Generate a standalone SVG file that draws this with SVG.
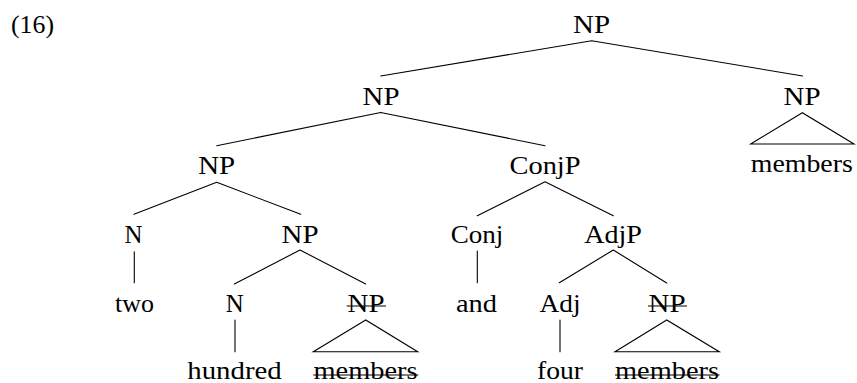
<svg xmlns="http://www.w3.org/2000/svg" width="857" height="383" viewBox="0 0 857 383">
<style>
text{font-size:25px;fill:#000;text-anchor:middle}
.e{stroke:#000;stroke-width:1.1;fill:none;stroke-linecap:round}
.s{stroke:#000;stroke-width:1.2}
</style>
<rect width="857" height="383" fill="#fff"/>
<g font-family="Liberation Serif, DejaVu Serif, Times New Roman, serif">
<text x="32.5" y="33" textLength="43" lengthAdjust="spacingAndGlyphs">(16)</text>
<g id="connectors">
<path class="e" d="M591.7,40.7 L380.7,76 M591.7,40.7 L802.7,76"/>
<path class="e" d="M380.7,112.5 L216.7,145.7 M380.7,112.5 L545,145.7"/>
<path class="e" d="M216.7,182.3 L134,214.3 M216.7,182.3 L300.7,214.3"/>
<path class="e" d="M545,181.7 L477.3,215.7 M545,181.7 L613.3,215.7"/>
<path class="e" d="M134.3,251.7 L134.3,282.7"/>
<path class="e" d="M300,250 L234.3,284 M300,250 L365.7,284"/>
<path class="e" d="M477.3,251 L477.3,282.7"/>
<path class="e" d="M613.3,250 L559.3,282.7 M613.3,250 L666.7,283"/>
<path class="e" d="M235,320 L235,351.7"/>
<path class="e" d="M560,320 L560,351.7"/>
<path class="e" d="M365.7,320 L313.3,351.7 L417.7,351.7 Z"/>
<path class="e" d="M666.7,320 L615,351.7 L719.3,351.7 Z"/>
<path class="e" d="M802.3,112.7 L750.7,144 L854,144 Z"/>
</g>
<g id="np-root"><text x="591.5" y="33" textLength="37" lengthAdjust="spacingAndGlyphs">NP</text></g>
<g id="np-left"><text x="381" y="105" textLength="37" lengthAdjust="spacingAndGlyphs">NP</text></g>
<g id="np-right"><text x="802" y="105" textLength="37" lengthAdjust="spacingAndGlyphs">NP</text></g>
<g id="np-right-members"><text x="801.8" y="171.7" textLength="102" lengthAdjust="spacingAndGlyphs">members</text></g>
<g id="np-l3"><text x="216.7" y="174" textLength="37" lengthAdjust="spacingAndGlyphs">NP</text></g>
<g id="conjp"><text x="545" y="174" textLength="71" lengthAdjust="spacingAndGlyphs">ConjP</text></g>
<g id="n1"><text x="133.5" y="243" textLength="18" lengthAdjust="spacingAndGlyphs">N</text></g>
<g id="np-l4"><text x="300" y="243" textLength="37" lengthAdjust="spacingAndGlyphs">NP</text></g>
<g id="conj"><text x="477" y="243" textLength="52.6" lengthAdjust="spacingAndGlyphs">Conj</text></g>
<g id="adjp"><text x="613" y="243" textLength="57.7" lengthAdjust="spacingAndGlyphs">AdjP</text></g>
<g id="two"><text x="134.5" y="311.7" textLength="39" lengthAdjust="spacingAndGlyphs">two</text></g>
<g id="n2"><text x="234.7" y="311.7" textLength="18" lengthAdjust="spacingAndGlyphs">N</text></g>
<g id="np-del1"><text x="366" y="311.7" textLength="37" lengthAdjust="spacingAndGlyphs">NP</text><line class="s" x1="346.7" y1="306" x2="386" y2="306"/></g>
<g id="and"><text x="476.5" y="311.7" textLength="41" lengthAdjust="spacingAndGlyphs">and</text></g>
<g id="adj"><text x="560" y="311.7" textLength="41" lengthAdjust="spacingAndGlyphs">Adj</text></g>
<g id="np-del2"><text x="667" y="311.7" textLength="37" lengthAdjust="spacingAndGlyphs">NP</text><line class="s" x1="648" y1="306" x2="687" y2="306"/></g>
<g id="hundred"><text x="234.5" y="378.5" textLength="94.4" lengthAdjust="spacingAndGlyphs">hundred</text></g>
<g id="members-del1"><text x="365.5" y="378.5" textLength="104" lengthAdjust="spacingAndGlyphs">members</text><line class="s" x1="313.3" y1="375" x2="418.3" y2="375"/></g>
<g id="four"><text x="560" y="378.5" textLength="46" lengthAdjust="spacingAndGlyphs">four</text></g>
<g id="members-del2"><text x="667" y="378.5" textLength="104" lengthAdjust="spacingAndGlyphs">members</text><line class="s" x1="615" y1="375" x2="719.5" y2="375"/></g>
</g>
</svg>
